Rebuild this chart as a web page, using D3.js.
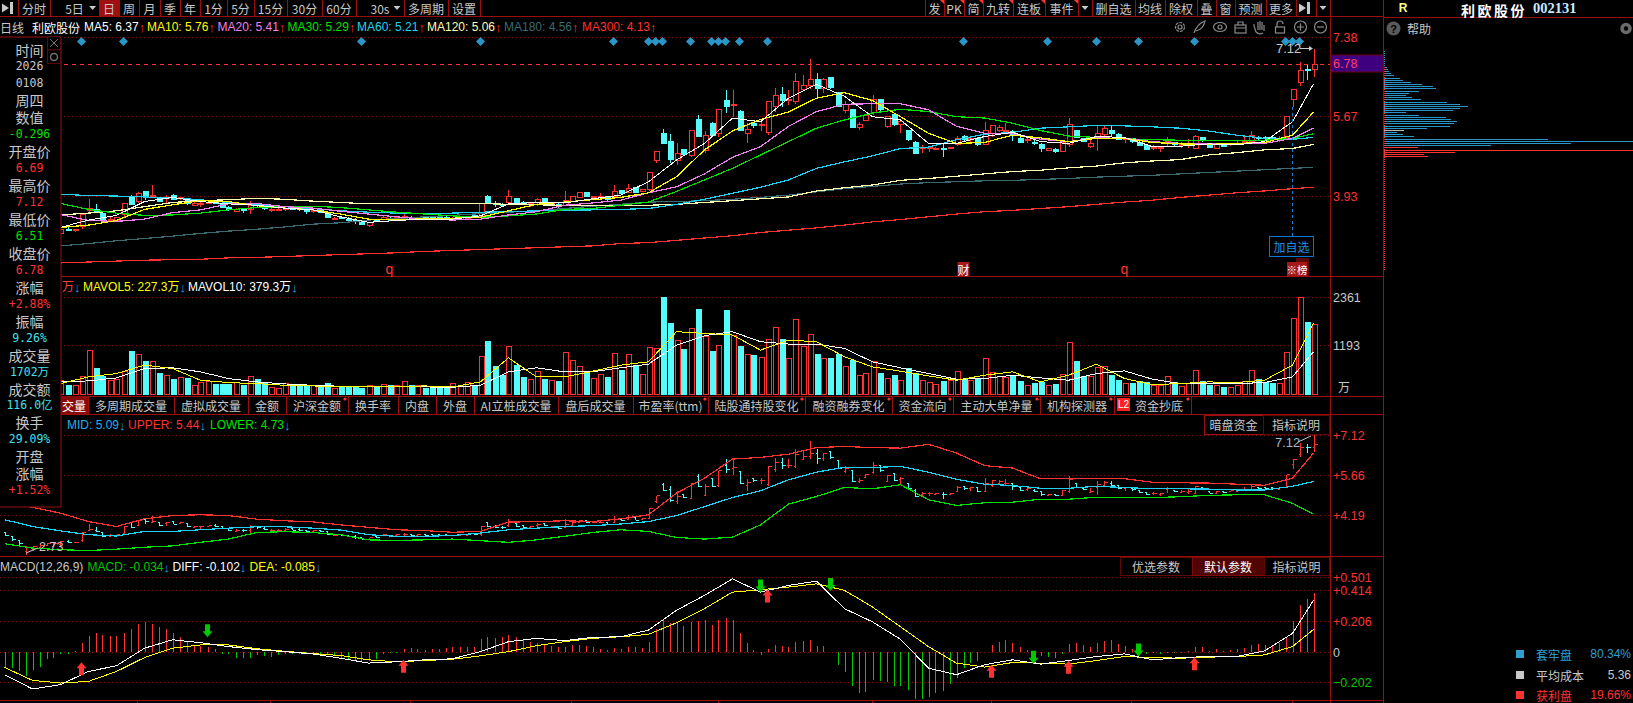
<!DOCTYPE html>
<html>
<head>
<meta charset="utf-8">
<script src="https://cdnjs.cloudflare.com/ajax/libs/d3/7.8.5/d3.min.js"></script>
<style>
html, body { margin: 0; padding: 0; background: #000; overflow: hidden; }
svg { display: block; }
text { font-family: "Liberation Sans", sans-serif; }
.cjk { font-family: "Noto Sans CJK SC", sans-serif; }
</style>
</head>
<body>
<script>
// daily bars, oldest first
var opens = [3.55,3.40,3.25,2.85,2.92,3.00,3.10,3.06,3.12,3.22,
3.20,3.28,3.63,3.64,3.56,3.42,3.42,3.53,3.94,3.82,
4.03,3.93,3.91,3.89,3.95,3.89,3.89,3.74,3.77,3.79,
3.83,3.78,3.69,3.61,3.64,3.64,3.77,3.71,3.62,3.62,
3.65,3.71,3.68,3.64,3.60,3.64,3.58,3.45,3.47,3.44,
3.42,3.36,3.30,3.41,3.44,3.44,3.45,3.47,3.48,3.44,
3.48,3.47,3.48,3.48,3.44,3.44,3.45,3.51,3.49,3.93,
3.78,3.76,3.80,3.88,3.81,3.75,3.81,3.89,3.76,3.76,
3.74,3.83,3.91,4.01,3.91,3.92,3.92,3.92,4.05,4.02,
4.12,4.03,4.08,4.71,5.30,5.13,4.71,4.94,4.81,5.60,
4.92,5.52,5.29,6.00,5.91,5.78,5.29,5.52,5.47,5.32,
5.88,6.13,6.02,5.99,6.24,6.33,6.47,6.28,6.51,6.18,
5.79,5.82,5.42,5.57,5.74,6.03,5.44,5.71,5.50,5.35,
5.11,4.97,4.98,4.96,4.96,4.96,5.05,5.24,5.16,5.19,
5.06,5.29,5.36,5.34,5.34,5.19,5.15,5.11,5.05,4.92,
4.95,4.91,5.06,5.37,5.18,5.01,5.19,5.27,5.35,5.28,
5.18,5.18,5.11,5.03,4.98,4.96,5.13,5.10,5.03,5.03,
4.98,5.21,5.05,4.98,5.06,5.05,5.06,5.09,5.12,5.21,
5.21,5.21,5.15,5.21,6.04,6.40,6.69,6.69];
var highs = [3.58,3.44,3.28,3.05,3.08,3.14,3.18,3.20,3.25,3.27,
3.23,3.57,3.88,3.77,3.57,3.51,3.48,3.79,3.96,4.02,
4.06,4.18,3.93,3.96,3.99,3.93,3.90,3.80,3.80,3.81,
3.86,3.81,3.73,3.68,3.68,3.83,3.78,3.77,3.67,3.68,
3.71,3.73,3.71,3.65,3.64,3.65,3.60,3.49,3.51,3.48,
3.46,3.39,3.36,3.44,3.51,3.48,3.49,3.54,3.51,3.49,
3.51,3.49,3.51,3.50,3.48,3.49,3.49,3.55,3.78,3.96,
3.84,3.78,4.07,3.89,3.84,3.81,3.90,3.90,3.81,3.78,
4.05,3.93,4.02,4.03,3.94,4.00,3.93,4.18,4.07,4.20,
4.14,4.10,4.45,4.90,5.39,5.28,5.08,4.95,5.37,5.70,
5.34,5.55,5.83,6.24,6.24,5.80,5.52,5.55,5.55,6.00,
6.28,6.30,6.24,6.61,6.57,6.90,6.61,6.49,6.52,6.19,
5.99,5.83,5.55,5.70,6.13,6.04,5.68,5.75,5.58,5.36,
5.14,5.05,5.03,5.01,5.06,5.01,5.25,5.27,5.21,5.21,
5.54,5.48,5.47,5.52,5.37,5.21,5.25,5.15,5.08,4.98,
4.98,5.13,5.63,5.38,5.19,5.18,5.45,5.45,5.46,5.31,
5.22,5.19,5.13,5.03,5.05,5.01,5.23,5.12,5.11,5.18,
5.27,5.23,5.06,5.08,5.08,5.09,5.13,5.23,5.35,5.24,
5.24,5.22,5.24,5.67,6.24,6.85,6.79,7.12];
var lows = [3.42,3.26,3.10,2.73,2.88,2.97,3.06,3.03,3.08,3.18,
3.16,3.22,3.60,3.57,3.41,3.42,3.39,3.47,3.74,3.78,
3.86,3.91,3.80,3.79,3.86,3.86,3.75,3.73,3.70,3.78,
3.77,3.67,3.62,3.60,3.58,3.55,3.68,3.64,3.60,3.62,
3.62,3.64,3.62,3.56,3.58,3.57,3.47,3.42,3.44,3.39,
3.34,3.31,3.27,3.37,3.42,3.41,3.42,3.45,3.43,3.42,
3.43,3.42,3.42,3.42,3.42,3.43,3.44,3.46,3.44,3.77,
3.71,3.70,3.77,3.77,3.74,3.71,3.73,3.79,3.74,3.69,
3.72,3.81,3.89,3.91,3.89,3.89,3.84,3.90,3.99,4.00,
4.00,4.02,4.05,4.65,5.07,4.66,4.61,4.84,4.79,5.23,
4.88,5.23,5.23,5.74,5.66,5.35,5.08,5.41,5.34,5.26,
5.77,5.88,5.92,5.94,6.21,6.26,6.06,6.17,6.26,5.88,
5.74,5.42,5.37,5.56,5.70,5.79,5.42,5.46,5.30,5.13,
4.85,4.87,4.89,4.94,4.79,4.95,5.03,5.13,5.08,5.03,
5.05,5.23,5.32,5.30,5.13,5.08,5.09,5.05,4.90,4.91,
4.88,4.90,5.01,5.19,5.11,4.99,4.92,5.25,5.25,5.16,
5.09,5.08,5.02,4.94,4.94,4.90,5.01,5.03,4.99,4.98,
4.96,5.12,4.99,4.96,5.00,5.03,5.05,5.08,5.11,5.15,
5.15,5.13,5.12,5.19,5.87,6.33,6.46,6.51];
var closes = [3.45,3.30,3.15,3.00,3.05,3.10,3.15,3.15,3.22,3.20,
3.21,3.55,3.66,3.59,3.42,3.44,3.47,3.78,3.76,4.00,
3.96,3.96,3.83,3.91,3.86,3.91,3.78,3.78,3.78,3.80,
3.78,3.69,3.64,3.65,3.62,3.73,3.73,3.68,3.64,3.64,
3.66,3.65,3.64,3.60,3.62,3.59,3.47,3.46,3.46,3.42,
3.38,3.32,3.36,3.39,3.48,3.42,3.47,3.49,3.45,3.47,
3.45,3.44,3.44,3.44,3.46,3.48,3.47,3.47,3.78,3.78,
3.75,3.73,3.94,3.78,3.75,3.78,3.87,3.81,3.79,3.71,
3.84,3.92,4.01,3.92,3.92,3.94,3.86,4.04,4.00,4.10,
4.01,4.08,4.45,4.90,5.08,4.73,4.87,4.85,5.35,5.24,
5.26,5.26,5.82,5.87,5.93,5.36,5.39,5.47,5.48,5.99,
6.11,6.00,6.03,6.42,6.34,6.47,6.26,6.47,6.29,5.89,
5.92,5.43,5.48,5.68,6.03,5.82,5.66,5.48,5.55,5.16,
4.87,5.00,5.00,4.98,4.95,5.00,5.19,5.16,5.19,5.05,
5.37,5.46,5.43,5.37,5.25,5.10,5.16,5.07,4.96,4.96,
4.90,5.11,5.50,5.21,5.12,5.07,5.30,5.40,5.29,5.17,
5.19,5.13,5.03,4.95,4.99,5.00,5.16,5.05,5.05,5.06,
5.24,5.14,5.00,5.06,5.02,5.08,5.08,5.13,5.25,5.18,
5.18,5.16,5.19,5.67,6.24,6.66,6.68,6.78];
var volumes = [420,460,500,540,500,460,420,380,340,204,
204,424,1076,636,424,342,359,546,1051,970,
807,807,513,465,367,408,391,220,285,302,
245,245,245,285,204,424,359,261,163,147,
261,204,204,220,204,204,261,147,163,179,
179,139,204,187,236,220,204,310,220,204,
139,147,147,147,261,220,285,196,921,1296,
668,465,1174,709,416,359,546,367,326,302,
1019,831,685,530,391,489,416,994,571,978,
709,481,1141,1125,2355,1728,1320,1100,1606,2054,
1418,1035,1198,2029,1426,1174,970,954,897,1345,
1630,1345,880,1809,1157,1459,978,880,880,978,
685,831,465,513,807,513,383,465,342,628,
505,334,285,245,302,342,554,359,342,359,
872,522,440,416,424,302,220,253,285,220,
236,481,1263,807,440,440,652,676,465,342,
261,253,302,285,220,220,432,285,187,261,
587,302,220,220,171,171,212,310,579,359,
277,253,261,1019,1850,2361,1752,1702];
var macdBars = [-0.100,-0.107,-0.129,-0.162,-0.118,-0.100,-0.047,-0.036,-0.011,-0.011,
0.009,0.060,0.109,0.127,0.116,0.109,0.109,0.127,0.153,0.193,
0.202,0.193,0.171,0.158,0.127,0.100,0.078,0.049,0.042,0.038,
0.024,-0.011,-0.011,-0.040,-0.040,-0.040,-0.018,-0.024,-0.029,-0.018,
-0.011,-0.011,-0.013,-0.011,-0.011,-0.011,-0.018,-0.024,-0.040,-0.047,
-0.051,-0.062,-0.056,-0.047,-0.011,-0.004,-0.004,0.022,0.027,0.022,
0.016,0.020,0.020,0.027,0.033,0.038,0.038,0.038,0.087,0.104,
0.093,0.100,0.116,0.100,0.082,0.071,0.064,0.049,0.042,0.038,
0.033,0.049,0.047,0.042,0.033,0.022,0.016,0.027,0.020,0.033,
0.033,0.027,0.071,0.153,0.220,0.198,0.204,0.176,0.204,0.209,
0.216,0.182,0.216,0.227,0.220,0.127,0.060,0.016,-0.018,0.020,
0.049,0.044,0.033,0.071,0.076,0.082,0.042,0.040,0,-0.084,
-0.136,-0.229,-0.273,-0.269,-0.184,-0.196,-0.202,-0.229,-0.224,-0.256,
-0.313,-0.313,-0.300,-0.273,-0.262,-0.211,-0.173,-0.107,-0.069,-0.062,
0,0.049,0.071,0.082,0.064,0.033,0.016,-0.011,-0.022,-0.029,
-0.040,-0.011,0.053,0.060,0.049,0.038,0.064,0.078,0.082,0.056,
0.042,0.020,0,-0.011,-0.007,-0.011,-0.004,-0.004,-0.002,0.011,
0.038,0.033,0.009,0.022,0.011,0.016,0.020,0.027,0.049,0.056,
0.049,0.049,0.060,0.104,0.211,0.316,0.360,0.398];

// moving averages read every fourth bar, the last one is the newest bar
var maBars = d3.range(8, 185, 4).concat(187);
var ma5 = [3.26,3.42,3.52,3.82,3.91,3.82,3.77,3.74,3.68,3.64,3.49,3.37,3.41,3.44,3.44,3.51,3.77,3.80,
3.79,3.88,3.96,4.25,4.72,5.08,5.63,5.55,6.06,6.36,6.10,5.66,5.59,5.08,5.08,5.23,5.32,5.12,5.08,5.23,5.21,5.01,5.02,5.07,5.05,5.12,5.55,6.37];
var ma10 = [3.26,3.31,3.41,3.65,3.75,3.84,3.82,3.73,3.68,3.64,3.55,3.44,3.42,3.45,3.46,3.48,3.62,3.76,
3.81,3.86,3.91,4.01,4.36,4.94,5.35,5.60,5.76,6.06,6.18,6.01,5.66,5.30,5.08,5.10,5.26,5.20,5.12,5.19,5.19,5.10,5.07,5.06,5.08,5.10,5.26,5.76];
var ma20 = [3.54,3.41,3.39,3.44,3.58,3.64,3.77,3.78,3.71,3.68,3.61,3.55,3.49,3.44,3.42,3.44,3.53,3.60,
3.74,3.79,3.85,4.01,4.14,4.42,4.78,5.01,5.45,5.77,5.93,5.94,5.94,5.81,5.45,5.30,5.29,5.17,5.12,5.20,5.19,5.12,5.08,5.08,5.08,5.08,5.19,5.41];
var ma30 = [3.78,3.65,3.57,3.52,3.53,3.57,3.64,3.69,3.71,3.72,3.69,3.64,3.59,3.55,3.51,3.48,3.51,3.55,
3.65,3.67,3.74,3.81,4.04,4.29,4.54,4.83,5.12,5.41,5.59,5.74,5.82,5.77,5.66,5.63,5.52,5.36,5.24,5.21,5.18,5.16,5.15,5.14,5.14,5.15,5.19,5.29];
var ma60 = [3.98,3.95,3.94,3.92,3.90,3.86,3.80,3.75,3.71,3.67,3.62,3.59,3.57,3.57,3.57,3.59,3.60,3.62,
3.63,3.64,3.65,3.67,3.76,3.87,4.00,4.13,4.29,4.54,4.68,4.81,4.97,5.00,5.16,5.28,5.32,5.41,5.44,5.47,5.46,5.44,5.41,5.35,5.26,5.19,5.17,5.21];
var ma120 = [3.53,3.57,3.62,3.71,3.80,3.84,3.86,3.89,3.87,3.83,3.80,3.77,3.77,3.78,3.78,3.78,3.76,3.75,
3.74,3.73,3.73,3.74,3.76,3.80,3.84,3.88,3.92,4.05,4.12,4.18,4.28,4.32,4.37,4.42,4.47,4.50,4.55,4.59,4.66,4.70,4.73,4.83,4.88,4.94,4.97,5.06];
var ma180 = [2.86,2.91,2.97,3.02,3.07,3.13,3.18,3.22,3.27,3.33,3.36,3.42,3.45,3.49,3.52,3.56,3.59,3.62,3.67,3.72,
3.76,3.81,3.82,3.84,3.87,3.91,3.96,4.03,4.10,4.15,4.20,4.23,4.25,4.27,4.28,4.30,4.32,4.35,4.37,4.39,4.42,4.45,4.48,4.51,4.54,4.56];
var ma300 = [2.49,2.51,2.53,2.55,2.56,2.57,2.60,2.61,2.63,2.65,2.67,2.69,2.71,2.74,2.76,2.78,2.80,2.82,2.84,2.86,
2.91,2.93,2.98,3.03,3.08,3.15,3.20,3.25,3.31,3.38,3.43,3.49,3.55,3.60,3.63,3.67,3.71,3.76,3.81,3.85,3.91,3.96,4.01,4.05,4.10,4.13];
var mavol5 = [261,424,505,709,628,342,285,261,220,204,179,179,187,204,179,302,888,424,424,562,709,791,
1524,1483,1443,1076,1320,1280,913,668,562,448,342,465,546,302,465,734,383,236,261,302,285,342,709,1728];
var mavol10 = [302,326,399,628,644,546,383,302,253,220,196,179,179,179,171,220,546,644,546,546,644,734,
1198,1426,1524,1280,1223,1223,1117,791,644,505,367,383,465,399,342,505,571,367,261,261,261,285,424,1035];

var bandBars = d3.range(0, 185, 4).concat(187);
var bollUpper = [4.70,4.48,4.27,3.96,3.78,4.06,4.18,4.21,4.18,4.05,3.99,3.95,3.84,3.75,3.66,3.63,3.57,3.60,3.94,3.96,3.99,3.96,4.06,4.21,
5.00,5.55,6.25,6.31,6.43,6.67,6.71,6.67,6.65,6.79,6.47,6.01,5.92,5.53,5.53,5.55,5.53,5.40,5.38,5.37,5.33,5.29,5.55,6.47];
var bollMid = [4.03,3.78,3.62,3.48,3.43,3.60,3.60,3.66,3.72,3.77,3.77,3.72,3.65,3.48,3.42,3.42,3.45,3.54,3.66,3.72,3.78,3.81,3.87,3.96,
4.18,4.51,4.84,5.09,5.49,5.77,5.95,5.94,5.98,5.77,5.51,5.33,5.28,5.18,5.18,5.25,5.21,5.16,5.16,5.15,5.12,5.12,5.25,5.43];
var bollLower = [3.15,2.99,2.93,2.90,2.95,3.02,3.07,3.20,3.32,3.56,3.59,3.56,3.48,3.29,3.27,3.29,3.32,3.26,3.20,3.29,3.42,3.56,3.66,3.60,
3.38,3.32,3.39,3.84,4.60,4.88,5.21,5.16,5.31,4.76,4.55,4.65,4.67,4.78,4.78,4.85,4.85,4.84,4.87,4.92,4.94,4.94,4.63,4.23];
var macdDiff = [-0.151,-0.247,-0.218,-0.129,-0.091,0.027,0.084,0.064,0.038,0.018,0.004,-0.011,-0.040,-0.073,-0.064,-0.051,-0.044,0.004,0.071,0.093,0.078,0.100,0.104,0.149,
0.282,0.382,0.493,0.404,0.449,0.478,0.293,0.204,0.087,-0.107,-0.151,-0.084,-0.051,-0.080,-0.056,-0.029,-0.011,-0.051,-0.036,-0.029,-0.029,0.009,0.127,0.349];
var macdDea = [-0.102,-0.189,-0.207,-0.196,-0.129,-0.036,0.027,0.049,0.049,0.024,0.007,-0.009,-0.022,-0.051,-0.064,-0.056,-0.047,-0.024,0.004,0.044,0.071,0.093,0.104,0.120,
0.198,0.293,0.404,0.420,0.438,0.460,0.416,0.304,0.171,0.038,-0.073,-0.100,-0.069,-0.073,-0.080,-0.056,-0.029,-0.036,-0.040,-0.033,-0.029,-0.018,0.038,0.153];

// signal marks, bar index and the macd value the arrow tip sits on
var crossUpBars = [11,57,109,141,152,170];
var crossUpTips = [-0.067,-0.051,0.422,-0.084,-0.058,-0.033];
var crossDownBars = [29,108,118,147,162];
var crossDownTips = [0.100,0.402,0.411,-0.078,-0.029];
var eventBars = [11,17,51,68,87,92,93,94,98,101,102,103,105,109,137,149,156,162,170,183,184,185];
var monthBars = [19,38,58,81,102,124,141,161,184];

// chips profile, price level and volume
var chipPrices = [6.73,6.69,6.64,6.60,6.56,6.49,6.45,6.41,6.36,6.32,6.27,6.21,6.17,6.12,6.08,6.04,5.97,5.93,5.89,5.84,5.80,5.76,5.69,5.65,5.60,5.56,5.52,5.45,5.41,5.36,5.32,5.28,5.24,5.17,5.13,5.08,5.04,5.00,4.93,4.89,4.85,4.80];
var chipVolumes = [3,4,5,7,10,16,19,27,38,49,52,35,25,22,28,37,63,76,84,76,69,22,35,62,67,73,70,66,43,20,13,19,30,164,249,187,107,34,249,71,40,44];

var priceTicks = [7.38,5.67,3.93];
var volumeTicks = [2361,1193];
var bollTicks = [7.12,5.66,4.19];
var macdTicks = [0.501,0.414,0.206,0,-0.202];

var topLeftTabs = ['分时','5日','日','周','月','季','年','1分','5分','15分','30分','60分','30s','多周期','设置'];
var topLeftEdges = [18,50,99,119,139,160,180,200,227,254,287,322,356,404,448,480];
var topRightTabs = ['发','PK','简','九转','连板','事件','','删自选','均线','除权','叠','窗','预测','更多','','' ];
var topRightEdges = [925,944,964,983,1013,1045,1078,1092,1135,1165,1197,1216,1235,1266,1296,1316,1330];
var subTabs = ['多周期成交量','虚拟成交量','金额','沪深金额','换手率','内盘','外盘','AI立桩成交量','盘后成交量','市盈率(ttm)','陆股通持股变化','融资融券变化','资金流向','主动大单净量','机构探测器'];
var subTabEdges = [88,174,248,286,348,398,436,474,558,633,708,805,892,953,1040,1114,1191];
var subTabDots = [3,9,10,11,12,13,14,15];

var tipLabels = ['时间','2026','0108','周四','数值','-0.296','开盘价','6.69','最高价','7.12','最低价','6.51','收盘价','6.78','涨幅','+2.88%','振幅','9.26%','成交量','1702万','成交额','116.0亿','换手','29.09%','开盘','涨幅','+1.52%'];
var tipColors = ['#c8c8c8','#c8c8c8','#c8c8c8','#c8c8c8','#c8c8c8','#00e000','#c8c8c8','#ff3232','#c8c8c8','#ff3232','#c8c8c8','#00e000','#c8c8c8','#ff3232','#c8c8c8','#ff3232','#c8c8c8','#40e0f0','#c8c8c8','#40e0f0','#c8c8c8','#40e0f0','#c8c8c8','#40e0f0','#c8c8c8','#c8c8c8','#ff3232'];

var RED = '#ff3232', CYAN = '#54fcfc', GRID = '#8c0c0c', FRAME = '#9a0e0e';

var svg = d3.select('body').append('svg').attr('width', 1633).attr('height', 703);
svg.append('rect').attr('width', 1633).attr('height', 703).attr('fill', '#000');

var x = d3.scaleLinear().domain([0, 187]).range([4.5, 1313.5]);
var priceY = d3.scaleLinear().domain([3.93, 7.38]).range([196.5, 37.3]);
var volY = d3.scaleLinear().domain([0, 2361]).range([394.3, 297.3]);
var bollY = d3.scaleLinear().domain([4.19, 7.12]).range([515.3, 435.3]);
var macdY = d3.scaleLinear().domain([-0.202, 0.501]).range([682.3, 577.7]);

function label(g, px, py, str, color, size, anchor, cls) {
    return g.append('text')
        .attr('x', px).attr('y', py)
        .attr('fill', color)
        .attr('font-size', size)
        .attr('text-anchor', anchor || 'start')
        .attr('dominant-baseline', 'central')
        .attr('class', cls || null)
        .text(str);
}

function hline(y, x0, x1, color, dash) {
    svg.append('line')
        .attr('x1', x0).attr('x2', x1).attr('y1', y).attr('y2', y)
        .attr('stroke', color)
        .attr('stroke-dasharray', dash || null)
        .attr('shape-rendering', 'crispEdges');
}

function drawLine(bars, values, yScale, color, width) {
    var line = d3.line()
        .x(function (d, i) { return x(bars[i]); })
        .y(function (d) { return yScale(d); });
    svg.append('path')
        .datum(values)
        .attr('d', line)
        .attr('fill', 'none')
        .attr('stroke', color)
        .attr('stroke-width', width || 1.2)
        .attr('shape-rendering', 'crispEdges');
}

function drawAxis(scale, ticks, format, color, px) {
    var axis = d3.axisRight(scale).tickValues(ticks).tickSize(0).tickPadding(0).tickFormat(format);
    var g = svg.append('g').attr('transform', 'translate(' + px + ',0)').call(axis);
    g.select('.domain').remove();
    g.selectAll('text')
        .attr('fill', color)
        .attr('font-size', 12.5)
        .attr('font-family', '"Liberation Sans", sans-serif');
    return g;
}

// grids
priceTicks.forEach(function (d) { hline(priceY(d), 0, 1330, GRID, '1 3'); });
volumeTicks.forEach(function (d) { hline(volY(d), 0, 1330, GRID, '1 3'); });
bollTicks.forEach(function (d) { hline(bollY(d), 0, 1330, GRID, '1 3'); });
macdTicks.forEach(function (d) { hline(macdY(d), 0, 1330, GRID, '1 3'); });
hline(priceY(6.78), 0, 1330, RED, '4 4');

// frames
[16, 276, 396, 414, 556, 700].forEach(function (y) { hline(y, 0, 1383, FRAME); });
hline(17, 1383, 1633, FRAME);
svg.append('line').attr('x1', 1330.5).attr('x2', 1330.5).attr('y1', 16).attr('y2', 703).attr('stroke', FRAME);
svg.append('line').attr('x1', 1383.5).attr('x2', 1383.5).attr('y1', 0).attr('y2', 703).attr('stroke', FRAME);
svg.selectAll('.month').data(monthBars).enter().append('line')
    .attr('x1', function (d) { return x(d); }).attr('x2', function (d) { return x(d); })
    .attr('y1', 700).attr('y2', 703).attr('stroke', FRAME);

// candles in the main panel
var idx = d3.range(opens.length);
function isUp(i) { return closes[i] >= opens[i]; }
function barColor(i) { return isUp(i) ? RED : CYAN; }

var candles = svg.append('g').attr('shape-rendering', 'crispEdges');
candles.selectAll('line').data(idx).enter().append('line')
    .attr('x1', function (i) { return Math.round(x(i)) + 0.5; })
    .attr('x2', function (i) { return Math.round(x(i)) + 0.5; })
    .attr('y1', function (i) { return priceY(highs[i]); })
    .attr('y2', function (i) { return priceY(lows[i]); })
    .attr('stroke', barColor);
candles.selectAll('rect').data(idx).enter().append('rect')
    .attr('x', function (i) { return Math.round(x(i)) - 2; })
    .attr('width', 5)
    .attr('y', function (i) { return priceY(Math.max(opens[i], closes[i])); })
    .attr('height', function (i) { return Math.max(1, Math.abs(priceY(opens[i]) - priceY(closes[i]))); })
    .attr('fill', function (i) { return isUp(i) ? '#000' : CYAN; })
    .attr('stroke', function (i) { return isUp(i) ? RED : CYAN; });

drawLine(maBars, ma300, priceY, '#ff3030', 1.2);
drawLine(maBars, ma180, priceY, '#3a6a70', 1.2);
drawLine(maBars, ma120, priceY, '#ffffb0', 1.2);
drawLine(maBars, ma60, priceY, '#20d0f0', 1.2);
drawLine(maBars, ma30, priceY, '#00e000', 1.2);
drawLine(maBars, ma20, priceY, '#f080f0', 1.2);
drawLine(maBars, ma10, priceY, '#ffff00', 1.2);
drawLine(maBars, ma5, priceY, '#ffffff', 1);

// event diamonds
svg.selectAll('.event').data(eventBars).enter().append('path')
    .attr('d', d3.symbol().type(d3.symbolSquare).size(40))
    .attr('transform', function (d) { return 'translate(' + x(d) + ',41.5) rotate(45)'; })
    .attr('fill', '#2a96c8');

// crosshair and tags
svg.append('line').attr('x1', x(184)).attr('x2', x(184)).attr('y1', priceY(5.87)).attr('y2', 236)
    .attr('stroke', '#1e7fd0').attr('stroke-dasharray', '3 3');
svg.append('rect').attr('x', 1269.5).attr('y', 236.5).attr('width', 44).attr('height', 20)
    .attr('fill', '#000').attr('stroke', '#0a78d2');
label(svg, 1291.5, 246.5, '加自选', '#1e90e0', 12, 'middle', 'cjk');
label(svg, x(55), 268.5, 'q', RED, 14, 'middle');
label(svg, x(160), 268.5, 'q', RED, 14, 'middle');
svg.append('rect').attr('x', x(137) - 6).attr('y', 262).attr('width', 12).attr('height', 14).attr('fill', '#a81818');
label(svg, x(137), 269, '财', '#fff', 12, 'middle', 'cjk');
svg.append('rect').attr('x', 1296).attr('y', 258).attr('width', 13).attr('height', 18).attr('fill', '#5a0808');
svg.append('rect').attr('x', 1287).attr('y', 262).attr('width', 20).attr('height', 14).attr('fill', '#a81818');
label(svg, 1297, 269, '※榜', '#fff', 10.5, 'middle', 'cjk');

// high label
label(svg, 1276, 48, '7.12', '#c8c8c8', 13);
svg.append('path').attr('d', 'M1300,48.5H1311').attr('stroke', '#c8c8c8').attr('fill', 'none');
svg.append('path').attr('d', 'M1309,46L1313,48.5L1309,51Z').attr('fill', '#c8c8c8');

// volume panel
var volBars = svg.append('g').attr('shape-rendering', 'crispEdges');
volBars.selectAll('rect').data(idx).enter().append('rect')
    .attr('x', function (i) { return Math.round(x(i)) - 2; })
    .attr('width', 5)
    .attr('y', function (i) { return volY(volumes[i]); })
    .attr('height', function (i) { return volY(0) - volY(volumes[i]); })
    .attr('fill', function (i) { return isUp(i) ? '#000' : CYAN; })
    .attr('stroke', function (i) { return isUp(i) ? RED : CYAN; });
drawLine(maBars, mavol10, volY, '#ffffff', 1);
drawLine(maBars, mavol5, volY, '#ffff00', 1);

// boll panel, bars with open and close ticks
var ohlc = svg.append('g').attr('shape-rendering', 'crispEdges');
drawLine(bandBars, bollLower, bollY, '#00e000', 1.2);
drawLine(bandBars, bollMid, bollY, '#20d0f0', 1.2);
drawLine(bandBars, bollUpper, bollY, '#ff3232', 1.2);
idx.forEach(function (i) {
    var px = Math.round(x(i)) + 0.5;
    ohlc.append('line').attr('x1', px).attr('x2', px)
        .attr('y1', bollY(highs[i])).attr('y2', bollY(lows[i])).attr('stroke', barColor(i));
    ohlc.append('line').attr('x1', px - 2).attr('x2', px)
        .attr('y1', bollY(opens[i])).attr('y2', bollY(opens[i])).attr('stroke', barColor(i));
    ohlc.append('line').attr('x1', px).attr('x2', px + 3)
        .attr('y1', bollY(closes[i])).attr('y2', bollY(closes[i])).attr('stroke', barColor(i));
});
label(svg, 1275, 442, '7.12', '#9fb8d0', 13);
svg.append('path').attr('d', 'M1298,442L1311,436').attr('stroke', '#c8c8c8').attr('fill', 'none');
label(svg, 39, 546.5, '2.73', '#c8c8c8', 12.5);
svg.append('path').attr('d', 'M38,548L26,553').attr('stroke', '#c8c8c8').attr('fill', 'none');

// macd panel
svg.append('g').attr('shape-rendering', 'crispEdges').selectAll('line').data(idx).enter().append('line')
    .attr('x1', function (i) { return Math.round(x(i)) + 0.5; })
    .attr('x2', function (i) { return Math.round(x(i)) + 0.5; })
    .attr('y1', macdY(0))
    .attr('y2', function (i) { return macdY(macdBars[i]); })
    .attr('stroke', function (i) { return macdBars[i] >= 0 ? RED : '#00c800'; });
drawLine(bandBars, macdDea, macdY, '#ffff00', 1);
drawLine(bandBars, macdDiff, macdY, '#ffffff', 1);

function arrow(bar, tip, dir, color) {
    var p = x(bar), t = macdY(tip);
    svg.append('path')
        .attr('d', 'M' + p + ',' + t + 'l5,' + (6 * dir) + 'h-2.5v' + (7 * dir) + 'h-5v' + (-7 * dir) + 'h-2.5Z')
        .attr('fill', color);
}
crossUpBars.forEach(function (b, i) { arrow(b, crossUpTips[i], 1, '#ff3232'); });
crossDownBars.forEach(function (b, i) { arrow(b, crossDownTips[i], -1, '#00c800'); });

// axes
drawAxis(priceY, priceTicks, d3.format('.2f'), RED, 1333);
drawAxis(volY, volumeTicks, d3.format('d'), '#c8c8c8', 1333);
drawAxis(bollY, bollTicks, function (d) { return '+' + d3.format('.2f')(d); }, RED, 1333);
var macdAxis = drawAxis(macdY, macdTicks, function (d) { return d === 0 ? '0' : (d > 0 ? '+' : '') + d3.format('.3f')(d); }, RED, 1333);
macdAxis.selectAll('text').attr('fill', function (d) { return d === 0 ? '#c8c8c8' : (d < 0 ? '#00c800' : RED); });
label(svg, 1338, 386, '万', '#c8c8c8', 12, 'start', 'cjk');
svg.append('rect').attr('x', 1331).attr('y', 55).attr('width', 52).attr('height', 17)
    .attr('fill', '#3f0080').attr('stroke', '#6a0010');
label(svg, 1333, 63.5, '6.78', '#ff4060', 12.5);

// top toolbars
function tabRow(tabs, edges, y0, y1, size, color) {
    tabs.forEach(function (t, i) {
        label(svg, (edges[i] + edges[i + 1]) / 2, (y0 + y1) / 2, t, color, size, 'middle', 'cjk');
    });
    edges.forEach(function (e) {
        svg.append('line').attr('x1', e + 0.5).attr('x2', e + 0.5).attr('y1', y0).attr('y2', y1)
            .attr('stroke', FRAME);
    });
}
svg.append('rect').attr('x', 99).attr('y', 0).attr('width', 20).attr('height', 16).attr('fill', '#a01010');
tabRow(topLeftTabs, topLeftEdges, 0, 16, 12, '#c8c8c8');
tabRow(topRightTabs, topRightEdges, 0, 16, 12, '#c8c8c8');
[92.6, 397, 1085, 1323].forEach(function (p) {
    svg.append('path').attr('d', 'M' + (p - 3.5) + ',6h7l-3.5,4Z').attr('fill', '#c8c8c8');
});
[9, 1306].forEach(function (p) {
    svg.append('path').attr('d', 'M' + (p - 7) + ',3.5l7,4.5l-7,4.5Z').attr('fill', '#c8c8c8');
    svg.append('rect').attr('x', p + 1).attr('y', 2).attr('width', 3).attr('height', 12).attr('fill', '#c8c8c8');
});
[944, 964, 983, 1013, 1045, 1078].forEach(function (e) {
    svg.append('path').attr('d', 'M' + (e - 4) + ',0h4v4Z').attr('fill', RED);
});

// legend rows
function legendRow(items, y) {
    items.forEach(function (it) {
        var t = label(svg, it.x, y, it.text, it.color, 12, 'start', 'cjk');
        t.attr('style', 'font-family:"Liberation Sans","Noto Sans CJK SC",sans-serif');
        if (it.arrow) {
            t.append('tspan').attr('fill', it.arrow === '↑' ? RED : '#30a0e0').attr('font-size', 13).text(it.arrow);
        }
    });
}
label(svg, 0, 27, '日线', '#c8c8c8', 12, 'start', 'cjk');
label(svg, 32, 27, '利欧股份', '#fff', 12, 'start', 'cjk');
legendRow([
    { x: 84, text: 'MA5: 6.37', color: '#ffffff', arrow: '↑' },
    { x: 147, text: 'MA10: 5.76', color: '#ffff00', arrow: '↑' },
    { x: 217.6, text: 'MA20: 5.41', color: '#f080f0', arrow: '↑' },
    { x: 287.5, text: 'MA30: 5.29', color: '#00e000', arrow: '↑' },
    { x: 357, text: 'MA60: 5.21', color: '#20d0f0', arrow: '↑' },
    { x: 427, text: 'MA120: 5.06', color: '#ffffb0', arrow: '↑' },
    { x: 504, text: 'MA180: 4.56', color: '#3a6a70', arrow: '↑' },
    { x: 582, text: 'MA300: 4.13', color: '#ff3030', arrow: '↑' }
], 27);
legendRow([
    { x: 62, text: '万', color: '#ff4040', arrow: '↓' },
    { x: 83, text: 'MAVOL5: 227.3万', color: '#ffff00', arrow: '↓' },
    { x: 188, text: 'MAVOL10: 379.3万', color: '#ffffff', arrow: '↓' }
], 287);
legendRow([
    { x: 67, text: 'MID: 5.09', color: '#20b0f0', arrow: '↓' },
    { x: 128, text: 'UPPER: 5.44', color: '#ff3232', arrow: '↓' },
    { x: 210, text: 'LOWER: 4.73', color: '#00e000', arrow: '↓' }
], 425);
legendRow([
    { x: 0, text: 'MACD(12,26,9)', color: '#c8c8c8' },
    { x: 87.5, text: 'MACD: -0.034', color: '#00c800', arrow: '↓' },
    { x: 172.5, text: 'DIFF: -0.102', color: '#ffffff', arrow: '↓' },
    { x: 249.6, text: 'DEA: -0.085', color: '#ffff00', arrow: '↓' }
], 566.7);

// indicator tabs
svg.append('rect').attr('x', 61).attr('y', 396).attr('width', 27).attr('height', 18).attr('fill', '#8a0a0a');
label(svg, 62, 405, '交量', '#fff', 12, 'start', 'cjk');
tabRow(subTabs, subTabEdges, 396, 414, 12, '#c8c8c8');
subTabDots.forEach(function (i) {
    svg.append('circle').attr('cx', subTabEdges[i + 1] - 3).attr('cy', 399).attr('r', 1.6).attr('fill', RED);
});
svg.append('rect').attr('x', 1117).attr('y', 398).attr('width', 13).attr('height', 13).attr('fill', '#ff2020');
label(svg, 1123.5, 404.5, 'L2', '#fff', 10, 'middle');
label(svg, 1135, 405, '资金抄底', '#c8c8c8', 12, 'start', 'cjk');

// panel buttons
function button(x0, x1, y0, y1, text, fill, stroke, color) {
    svg.append('rect').attr('x', x0 + 0.5).attr('y', y0 + 0.5).attr('width', x1 - x0).attr('height', y1 - y0)
        .attr('fill', fill).attr('stroke', stroke);
    label(svg, (x0 + x1) / 2, (y0 + y1) / 2, text, color, 12, 'middle', 'cjk');
}
button(1204, 1263, 415, 434, '暗盘资金', '#000', '#a01010', '#c8c8c8');
button(1263, 1329, 415, 434, '指标说明', '#000', '#600808', '#c8c8c8');
button(1120, 1192, 557, 575, '优选参数', '#000', '#600808', '#c8c8c8');
button(1192, 1264, 557, 575, '默认参数', '#500404', '#800808', '#fff');
button(1264, 1329, 557, 575, '指标说明', '#000', '#600808', '#c8c8c8');

// tool icons over the main panel
var toolIcons = svg.append('g').attr('fill', 'none').attr('stroke', '#8a8a8a').attr('stroke-width', 1.2);
toolIcons.append('circle').attr('cx', 1180).attr('cy', 27).attr('r', 4.5).attr('stroke-dasharray', '3 1');
toolIcons.append('circle').attr('cx', 1180).attr('cy', 27).attr('r', 2);
toolIcons.append('path').attr('d', 'M1194,33C1196,26 1200,23 1205,21C1204,27 1200,30 1196,31');
toolIcons.append('ellipse').attr('cx', 1220).attr('cy', 27).attr('rx', 6.5).attr('ry', 4.5);
toolIcons.append('circle').attr('cx', 1220).attr('cy', 27).attr('r', 2);
toolIcons.append('rect').attr('x', 1235).attr('y', 25).attr('width', 11).attr('height', 8);
toolIcons.append('path').attr('d', 'M1238,25v-3h5v3M1235,28h11');
toolIcons.append('path').attr('d', 'M1256,32l-2,-6v-2M1258,30v-8M1260,30v-9M1262,30v-8M1264,31v-6M1256,32q3,3 7,1');
toolIcons.append('rect').attr('x', 1275.5).attr('y', 27).attr('width', 9).attr('height', 6);
toolIcons.append('path').attr('d', 'M1277,27v-3a3,3 0 0 1 6,0');
toolIcons.append('circle').attr('cx', 1300.5).attr('cy', 27).attr('r', 6);
toolIcons.append('path').attr('d', 'M1297,27h7M1300.5,23.5v7');
toolIcons.append('circle').attr('cx', 1320.5).attr('cy', 27).attr('r', 6);
toolIcons.append('path').attr('d', 'M1317,27h7');

// right panel
label(svg, 1403, 8, 'R', '#ffff80', 12, 'middle').attr('font-weight', 'bold');
label(svg, 1461, 9.5, '利欧股份', '#fff', 14, 'start', 'cjk')
    .attr('font-weight', 'bold').attr('letter-spacing', 2.5);
label(svg, 1533, 8, '002131', '#c8e8ff', 14.5, 'start')
    .attr('font-weight', 'bold').attr('style', 'font-family:"Liberation Serif",serif');
svg.append('circle').attr('cx', 1393.5).attr('cy', 28.5).attr('r', 7).attr('fill', '#5a5a5a');
label(svg, 1393.5, 28.5, '?', '#000', 11, 'middle').attr('font-weight', 'bold');
label(svg, 1407, 28.5, '帮助', '#c8c8c8', 12, 'start', 'cjk');
svg.append('circle').attr('cx', 1626).attr('cy', 28.5).attr('r', 4).attr('fill', 'none')
    .attr('stroke', '#6a6a6a').attr('stroke-width', 3.5);

var chipX = d3.scaleLinear().domain([0, 249]).range([1384, 1633]);
svg.append('g').attr('shape-rendering', 'crispEdges').selectAll('rect').data(chipPrices).enter().append('rect')
    .attr('x', chipX(0))
    .attr('y', function (d) { return priceY(d) - 0.5; })
    .attr('width', function (d, i) { return chipX(chipVolumes[i]) - chipX(0); })
    .attr('height', 1)
    .attr('fill', function (d) { return d < 5.02 ? '#ff3232' : (d === 5.36 ? '#b8b8b8' : '#2a96c8'); });
svg.append('line').attr('x1', 1384.5).attr('x2', 1384.5).attr('y1', 51).attr('y2', 67)
    .attr('stroke', '#2a96c8').attr('stroke-dasharray', '1 1').attr('shape-rendering', 'crispEdges');
svg.append('line').attr('x1', 1384.5).attr('x2', 1384.5).attr('y1', 67).attr('y2', 270)
    .attr('stroke', '#ff3232').attr('stroke-dasharray', '1 1').attr('shape-rendering', 'crispEdges');

var chipLegend = [
    ['套牢盘', '80.34%', '#2f9fd0', '#2f9fd0', 654],
    ['平均成本', '5.36', '#c8c8c8', '#c8c8c8', 675],
    ['获利盘', '19.66%', '#ff3232', '#ff3232', 695]
];
chipLegend.forEach(function (row) {
    svg.append('rect').attr('x', 1516).attr('y', row[4] - 4).attr('width', 8).attr('height', 8).attr('fill', row[2]);
    label(svg, 1536, row[4], row[0], row[2], 12, 'start', 'cjk');
    label(svg, 1631, row[4], row[1], row[3], 12, 'end');
});

// data window, drawn last so it sits on top of the panels
var tip = svg.append('g');
tip.append('rect').attr('x', -1).attr('y', 37).attr('width', 62).attr('height', 470)
    .attr('fill', '#000').attr('stroke', FRAME);
tipLabels.forEach(function (t, i) {
    var isCjk = /[\u4e00-\u9fa5]/.test(t) && t.length < 4;
    var el = label(tip, 29.5, 49.5 + i * 16.95, t, tipColors[i], isCjk ? 14 : 12.5, 'middle', 'cjk');
    if (!isCjk) el.attr('style', 'font-family:"DejaVu Sans Mono","Noto Sans CJK SC",monospace').attr('font-size', 11.5);
});
[['M50,39l8,8M58,39l-8,8', 36.5], ['', 50]].forEach(function (r) {
    tip.append('rect').attr('x', 47.5).attr('y', r[1]).attr('width', 13).attr('height', 13.5)
        .attr('fill', '#000').attr('stroke', '#5a0a0a');
    if (r[0]) tip.append('path').attr('d', r[0]).attr('stroke', '#707070').attr('fill', 'none');
});
tip.append('circle').attr('cx', 54).attr('cy', 57).attr('r', 3.5).attr('fill', 'none').attr('stroke', '#707070').attr('stroke-width', 1.5);
</script>
</body>
</html>
